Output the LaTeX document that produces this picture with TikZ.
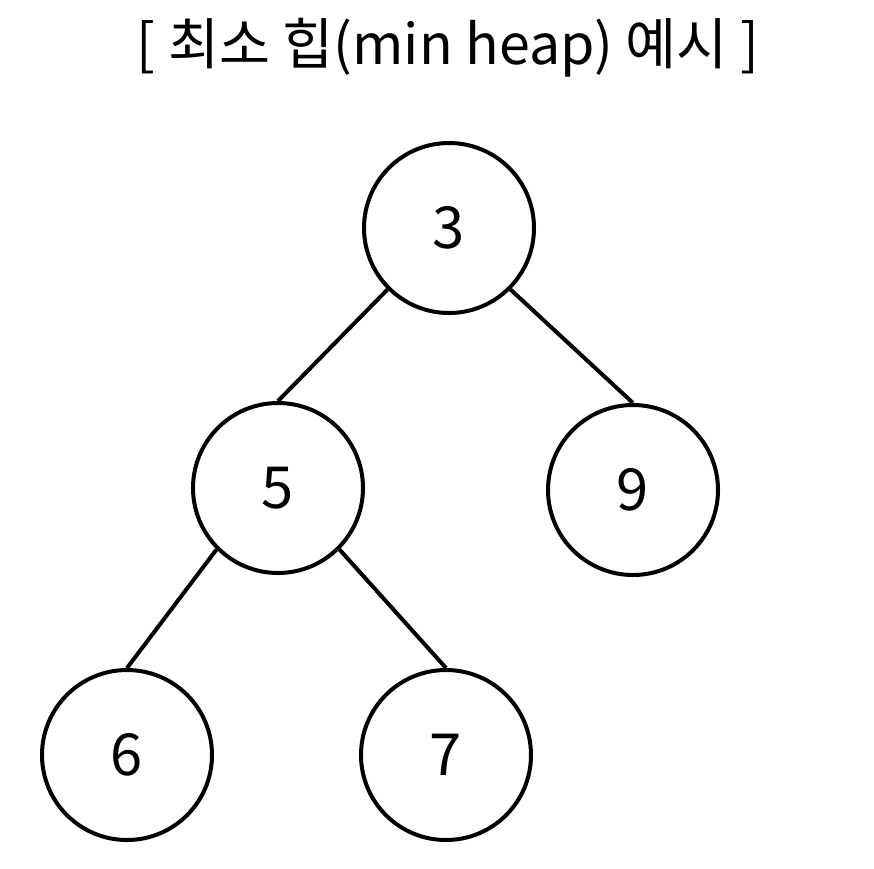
\documentclass[tikz,border=0pt]{standalone}
\usepackage{fontspec}
\setmainfont{Noto Sans CJK KR}
\begin{document}
\begin{tikzpicture}[x=1pt,y=-1pt,
  hnode/.style={circle,draw,line width=4pt,minimum size=170pt,inner sep=0pt,font=\fontsize{58}{60}\selectfont},
  hedge/.style={line width=4pt}]
\useasboundingbox (0,0) rectangle (874,868);
\node[font=\fontsize{55.5}{58}\selectfont] (title) at (448,48) {[ 최소 힙(min heap) 예시 ]};
\node[hnode] (r) at (449,228) {3};
\node[hnode] (a) at (278,488) {5};
\node[hnode] (b) at (633,490) {9};
\node[hnode] (c) at (127,755) {6};
\node[hnode] (d) at (446,755) {7};
\draw[hedge] (r.south west) -- (a.north);
\draw[hedge] (r.south east) -- (b.north);
\draw[hedge] (a.south west) -- (c.north);
\draw[hedge] (a.south east) -- (d.north);
\end{tikzpicture}
\end{document}
